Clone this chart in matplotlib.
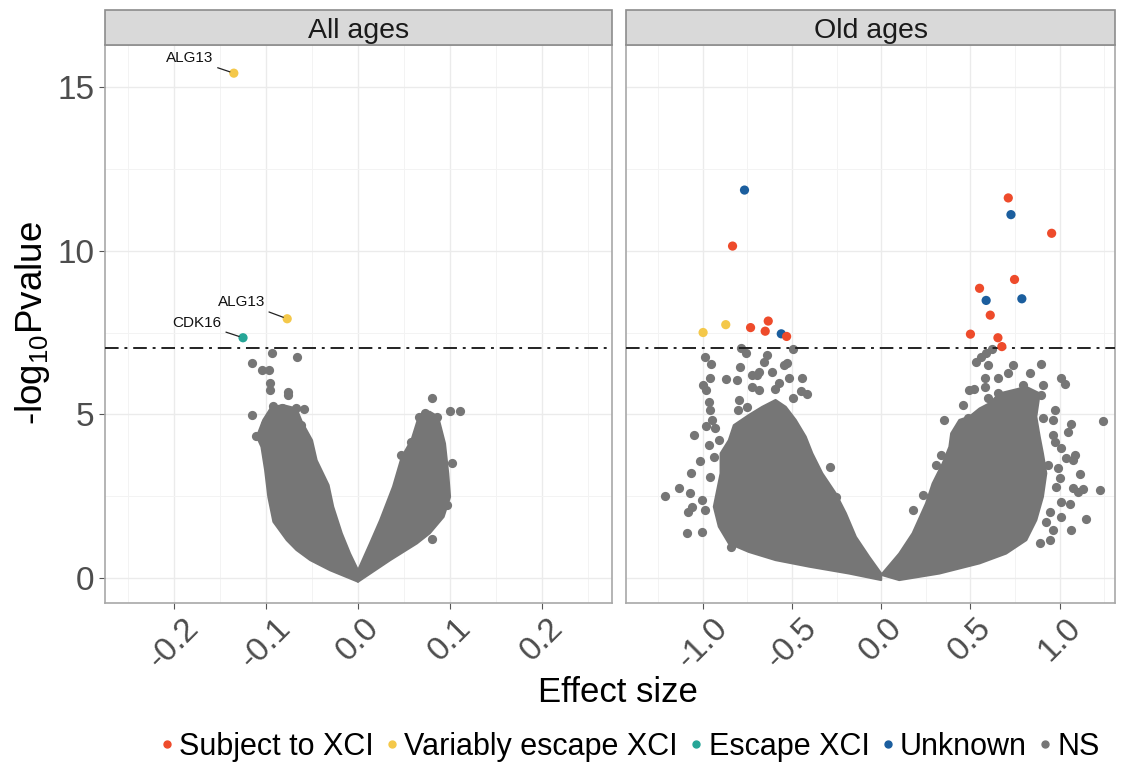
import matplotlib
matplotlib.use("Agg")
import matplotlib.pyplot as plt
from matplotlib.patches import Rectangle
from matplotlib.lines import Line2D

plt.rcParams['font.family'] = ['Liberation Sans', 'DejaVu Sans']
plt.rcParams['mathtext.fontset'] = 'custom'
plt.rcParams['mathtext.rm'] = 'Liberation Sans'
plt.rcParams['mathtext.default'] = 'regular'

# ---------------- data ----------------
facets = ["All ages", "Old ages"]
threshold = 7.03
categories = ["Subject to XCI", "Variably escape XCI", "Escape XCI", "Unknown", "NS"]
cat_colors = {"Subject to XCI": "#EE4B2B", "Variably escape XCI": "#F4C84A",
              "Escape XCI": "#26A697", "Unknown": "#1B5E9E", "NS": "#767676"}

# All ages: significant genes
all_sig_x = [-0.135, -0.077, -0.125]
all_sig_y = [15.42, 7.92, 7.34]
all_sig_cat = ["Variably escape XCI", "Variably escape XCI", "Escape XCI"]
all_sig_label = ["ALG13", "ALG13", "CDK16"]

# Old ages: significant genes
old_sig_x = [-0.766, -0.833, -0.998, -0.871, -0.732, -0.633, -0.650, -0.560, -0.530,
             0.712, 0.727, 0.955, 0.747, 0.551, 0.788, 0.588, 0.611, 0.500, 0.654, 0.676]
old_sig_y = [11.85, 10.14, 7.50, 7.74, 7.65, 7.85, 7.54, 7.46, 7.38,
             11.61, 11.10, 10.53, 9.12, 8.85, 8.53, 8.48, 8.03, 7.45, 7.34, 7.07]
old_sig_cat = ["Unknown", "Subject to XCI", "Variably escape XCI", "Variably escape XCI",
               "Subject to XCI", "Subject to XCI", "Subject to XCI", "Unknown", "Subject to XCI",
               "Subject to XCI", "Unknown", "Subject to XCI", "Subject to XCI", "Subject to XCI",
               "Unknown", "Unknown", "Subject to XCI", "Subject to XCI", "Subject to XCI",
               "Subject to XCI"]

# All ages: outline of the dense NS cloud (left arm, right arm)
all_core_left_x = [0.0, -0.0304, -0.052, -0.067, -0.0775, -0.092, -0.0975, -0.101, -0.105, -0.110,
                   -0.103, -0.094, -0.081, -0.067, -0.061, -0.050, -0.045, -0.032, -0.027, -0.0177,
                   -0.0087, 0.0]
all_core_left_y = [-0.11, 0.24, 0.55, 0.86, 1.16, 1.72, 2.48, 3.30, 4.01, 4.32,
                   4.83, 5.23, 5.28, 5.18, 4.77, 4.21, 3.60, 2.84, 2.18, 1.37,
                   0.75, 0.24]
all_core_right_x = [0.0, 0.013, 0.024, 0.038, 0.0475, 0.058, 0.066, 0.078, 0.087, 0.0945,
                    0.098, 0.100, 0.093, 0.078, 0.064, 0.035, 0.0]
all_core_right_y = [0.24, 1.06, 1.77, 2.79, 3.70, 4.21, 4.93, 5.08, 4.93, 4.11,
                    3.20, 2.48, 1.87, 1.37, 1.06, 0.55, -0.11]

# All ages: scattered NS genes outside the dense cloud
all_ns_x = [-0.1155, -0.1047, -0.0967, -0.093, -0.0667, -0.0957, -0.0957, -0.0757, -0.0757,
            -0.1155, -0.101, -0.111, -0.0587, -0.083, -0.067, -0.092, -0.062,
            0.080, 0.100, 0.111, 0.102, 0.097, 0.080, 0.066, 0.073, 0.086, 0.058, 0.047]
all_ns_y = [6.56, 6.35, 6.35, 6.88, 6.76, 5.95, 5.74, 5.69, 5.60,
            4.98, 4.72, 4.34, 5.15, 5.20, 5.21, 5.25, 4.67,
            5.49, 5.10, 5.10, 3.53, 2.23, 1.18, 4.93, 5.03, 4.93, 4.17, 3.76]

# Old ages: outline of the dense NS cloud
old_core_left_x = [0.0, -0.18, -0.404, -0.592, -0.742, -0.854, -0.910, -0.938, -0.919, -0.900,
                   -0.900, -0.854, -0.826, -0.742, -0.667, -0.592, -0.535, -0.479, -0.423, -0.386,
                   -0.330, -0.255, -0.198, -0.142, -0.067, 0.0]
old_core_left_y = [-0.06, 0.14, 0.35, 0.55, 0.80, 1.06, 1.57, 2.18, 2.69, 3.20,
                   3.81, 4.21, 4.67, 4.98, 5.23, 5.44, 5.23, 4.83, 4.32, 3.81,
                   3.20, 2.59, 1.98, 1.26, 0.65, 0.14]
old_core_right_x = [0.0, 0.101, 0.176, 0.251, 0.288, 0.344, 0.382, 0.392, 0.438, 0.494,
                    0.551, 0.607, 0.663, 0.738, 0.813, 0.888, 0.869, 0.888, 0.906, 0.925,
                    0.906, 0.869, 0.813, 0.700, 0.551, 0.326, 0.101]
old_core_right_y = [0.10, 0.75, 1.37, 2.28, 2.89, 3.50, 4.01, 4.42, 4.83, 4.93,
                    5.18, 5.34, 5.64, 5.74, 5.84, 5.64, 4.93, 4.32, 3.81, 3.20,
                    2.48, 1.77, 1.16, 0.75, 0.45, 0.14, -0.06]

# Old ages: scattered NS genes
old_ns_x = [-1.21, -1.135, -1.073, -1.066, -1.013, -1.047, -1.084, -1.060, -1.004, -0.985,
            -1.088, -1.004, -0.989, -0.951, -1.000, -0.981, -0.961, -0.966, -0.957, -0.948,
            -0.981, -0.929, -0.966, -0.938, -0.957, -0.910, -0.869, -0.807, -0.794, -0.788,
            -0.760, -0.798, -0.802, -0.751, -0.723, -0.695, -0.685, -0.726, -0.685, -0.657,
            -0.639, -0.614, -0.596, -0.573, -0.545, -0.526, -0.517, -0.494, -0.442, -0.494,
            -0.451, -0.414, -0.288, -0.255, -0.844,
            0.532, 0.560, 0.588, 0.597, 0.738, 0.710, 0.654, 0.831, 0.897, 1.010,
            1.028, 0.579, 0.584, 0.490, 0.522, 0.597, 0.654, 0.794, 0.906, 0.897,
            0.794, 0.822, 0.457, 0.354, 0.485, 0.841, 0.906, 0.972, 0.962, 1.066,
            1.047, 0.962, 0.972, 1.010, 1.084, 1.038, 1.075, 0.991, 1.112, 0.934,
            1.000, 0.981, 1.075, 1.103, 1.131, 1.225, 1.243, 1.010, 1.056, 0.944,
            1.010, 1.150, 0.925, 0.962, 1.066, 0.944, 0.888, 0.176, 0.232, 0.335,
            0.307, 0.622]
old_ns_y = [2.50, 2.76, 2.61, 3.20, 3.58, 4.36, 2.03, 2.18, 2.38, 2.08,
            1.39, 1.42, 6.76, 6.53, 5.89, 5.74, 6.10, 5.39, 5.13, 4.83,
            4.64, 4.57, 4.06, 3.70, 3.09, 4.21, 6.07, 6.05, 6.45, 7.02,
            6.88, 5.44, 5.13, 5.23, 6.20, 6.20, 6.30, 5.84, 5.74, 6.61,
            6.81, 6.30, 5.76, 5.97, 6.51, 6.56, 6.10, 6.99, 6.12, 5.49,
            5.71, 5.62, 3.38, 2.48, 0.96,
            6.61, 6.76, 6.86, 6.51, 6.51, 6.25, 6.10, 6.27, 6.54, 6.12,
            5.92, 6.10, 5.84, 5.74, 5.76, 5.49, 5.66, 5.89, 5.89, 5.59,
            5.54, 5.39, 5.28, 4.83, 4.88, 5.23, 4.88, 5.13, 4.83, 4.72,
            4.47, 4.37, 4.16, 3.96, 3.76, 3.66, 3.60, 3.35, 3.18, 3.45,
            3.05, 2.79, 2.74, 2.64, 2.71, 2.69, 4.80, 2.33, 2.26, 2.03,
            1.87, 1.82, 1.72, 1.47, 1.47, 1.16, 1.06, 2.08, 2.54, 3.76,
            3.45, 7.00]

x_ticks_all = [-0.2, -0.1, 0.0, 0.1, 0.2]
x_ticks_old = [-1.0, -0.5, 0.0, 0.5, 1.0]
y_ticks = [0, 5, 10, 15]

# ---------------- figure ----------------
W, H = 1128, 764
fig = plt.figure(figsize=(W / 100, H / 100), dpi=100)

def fx(px):
    return px / W

def fy(py):
    return 1 - py / H

top_px, bot_px = 45, 603
ax1 = fig.add_axes([fx(105), fy(bot_px), fx(612) - fx(105), (bot_px - top_px) / H])
ax2 = fig.add_axes([fx(626), fy(bot_px), fx(1115) - fx(626), (bot_px - top_px) / H])

ns_col = cat_colors["NS"]
msize = 44
grid_col = "#EBEBEB"
border_col = "#A8A8A8"
tick_col = "#4D4D4D"

def style(ax, xlim, xticks, minor):
    ax.set_xlim(*xlim)
    ax.set_ylim(-0.76, 16.28)
    ax.set_xticks(xticks)
    ax.set_xticks(minor, minor=True)
    ax.set_yticks(y_ticks)
    ax.set_yticks([2.5, 7.5, 12.5], minor=True)
    ax.grid(True, which='major', color=grid_col, lw=1.0, zorder=0)
    ax.grid(True, which='minor', color="#F3F3F3", lw=0.7, zorder=0)
    ax.set_axisbelow(True)
    for s in ax.spines.values():
        s.set_color(border_col)
        s.set_linewidth(1.2)
    ax.tick_params(which='minor', length=0)
    ax.tick_params(which='major', length=4, color="#555555", width=0.8,
                   labelsize=24, labelcolor=tick_col)
    ax.set_xticklabels([f"{t:.1f}" for t in xticks], rotation=45, ha='center', va='top')
    ax.tick_params(axis='x', pad=3)

def strip(ax, label):
    h = 35 / (bot_px - top_px)
    r = Rectangle((0, 1), 1, h, transform=ax.transAxes, facecolor="#D9D9D9",
                  edgecolor="#8C8C8C", lw=1.2, clip_on=False, zorder=5)
    ax.add_patch(r)
    ax.text(0.5, 1 + h / 2, label, transform=ax.transAxes, ha='center', va='center_baseline',
            fontsize=20.5, color="#1A1A1A", zorder=6)

def draw_core(ax, xs, ys):
    ax.fill(xs, ys, color=ns_col, lw=1.5, joinstyle='round', zorder=2)

# Panel 1
style(ax1, (-0.275, 0.276), x_ticks_all, [-0.25, -0.15, -0.05, 0.05, 0.15, 0.25])
draw_core(ax1, all_core_left_x, all_core_left_y)
draw_core(ax1, all_core_right_x, all_core_right_y)
ax1.scatter(all_ns_x, all_ns_y, s=msize, color=ns_col, lw=0, zorder=3)
ax1.scatter(all_sig_x, all_sig_y, s=msize, c=[cat_colors[c] for c in all_sig_cat], lw=0, zorder=4)
label_offsets = [(-0.022, 0.45), (-0.024, 0.52), (-0.023, 0.46)]
for x, y, lab, (dx, dy) in zip(all_sig_x, all_sig_y, all_sig_label, label_offsets):
    ax1.annotate(lab, xy=(x, y), xytext=(x + dx, y + dy), ha='right', va='center',
                 fontsize=11, color="#111111",
                 arrowprops=dict(arrowstyle='-', color="#222222", lw=0.9,
                                 shrinkA=1, shrinkB=3), zorder=6)
ax1.axhline(threshold, color="#222222", lw=1.4, dashes=(7, 3, 1.5, 3), zorder=3)
strip(ax1, facets[0])

# Panel 2
style(ax2, (-1.43, 1.31), x_ticks_old, [-1.25, -0.75, -0.25, 0.25, 0.75, 1.25])
draw_core(ax2, old_core_left_x, old_core_left_y)
draw_core(ax2, old_core_right_x, old_core_right_y)
ax2.scatter(old_ns_x, old_ns_y, s=msize, color=ns_col, lw=0, zorder=3)
ax2.scatter(old_sig_x, old_sig_y, s=msize, c=[cat_colors[c] for c in old_sig_cat], lw=0, zorder=4)
ax2.axhline(threshold, color="#222222", lw=1.4, dashes=(7, 3, 1.5, 3), zorder=3)
ax2.tick_params(axis='y', which='both', left=False, labelleft=False)
strip(ax2, facets[1])

# Axis titles
fig.text(fx(33), fy(323), r"-log$_{10}$Pvalue", rotation=90, ha='center', va='center',
         fontsize=26.5, color="black")
fig.text(fx(618), fy(692), "Effect size", ha='center', va='center', fontsize=25, color="black")

# Legend
handles = [Line2D([], [], ls='', marker='o', markersize=5, color=cat_colors[c]) for c in categories]
fig.legend(handles, categories, loc='center', bbox_to_anchor=(fx(628), fy(747)), ncol=5,
           frameon=False, fontsize=22, handletextpad=0.05, columnspacing=0.25,
           handlelength=0.7, borderaxespad=0)

fig.savefig("out.png", dpi=100, facecolor="white")
